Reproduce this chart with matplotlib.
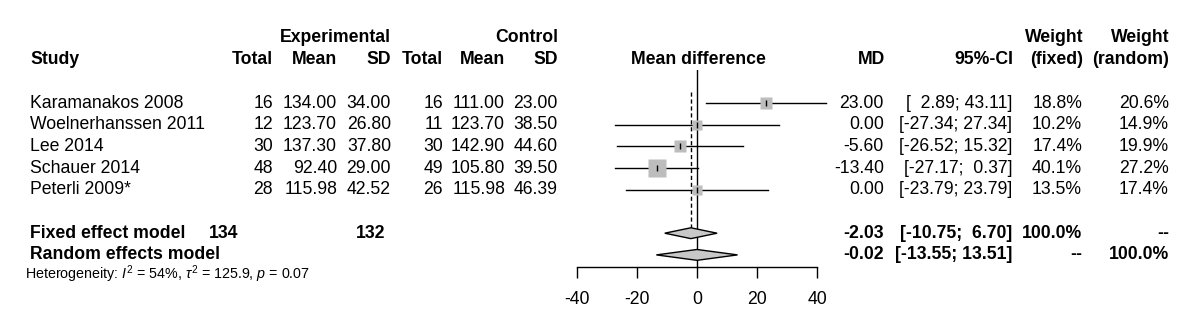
import numpy as np
import matplotlib
matplotlib.use("Agg")
import matplotlib.pyplot as plt
from matplotlib.patches import Polygon

plt.rcParams['font.family'] = ['Liberation Sans', 'DejaVu Sans']
plt.rcParams['mathtext.fontset'] = 'custom'
plt.rcParams['mathtext.rm'] = 'Liberation Sans'
plt.rcParams['mathtext.it'] = 'Liberation Sans:italic'
plt.rcParams['mathtext.bf'] = 'Liberation Sans:bold'
plt.rcParams['axes.unicode_minus'] = False

# data
studies = ["Karamanakos 2008", "Woelnerhanssen 2011", "Lee 2014", "Schauer 2014", "Peterli 2009*"]
exp_n = [16, 12, 30, 48, 28]
exp_mean = ["134.00", "123.70", "137.30", "92.40", "115.98"]
exp_sd = ["34.00", "26.80", "37.80", "29.00", "42.52"]
ctl_n = [16, 11, 30, 49, 26]
ctl_mean = ["111.00", "123.70", "142.90", "105.80", "115.98"]
ctl_sd = ["23.00", "38.50", "44.60", "39.50", "46.39"]
md = [23.00, 0.00, -5.60, -13.40, 0.00]
ci_lo = [2.89, -27.34, -26.52, -27.17, -23.79]
ci_hi = [43.11, 27.34, 15.32, 0.37, 23.79]
w_fixed = [18.8, 10.2, 17.4, 40.1, 13.5]
w_random = [20.6, 14.9, 19.9, 27.2, 17.4]

fixed_md, fixed_lo, fixed_hi = -2.03, -10.75, 6.70
random_md, random_lo, random_hi = -0.02, -13.55, 13.51
total_exp, total_ctl = 134, 132
xticks = [-40, -20, 0, 20, 40]

fs = 12.7
row_h = 21.7
y0 = 103

fig = plt.figure(figsize=(12, 3.32), dpi=100)
tx = fig.add_axes([0, 0, 1, 1])
tx.set_xlim(0, 1200)
tx.set_ylim(332, 0)
tx.axis('off')

def t(x, y, s, ha='right', bold=False, size=fs):
    tx.text(x, y, s, ha=ha, va='center', fontsize=size,
            fontweight='bold' if bold else 'normal')

def fmt_ci(lo, hi):
    return "[" + ("%.2f" % lo).rjust(6) + "; " + ("%.2f" % hi).rjust(5) + "]"

# headers
t(391, 37, "Experimental", bold=True)
t(558, 37, "Control", bold=True)
t(1083, 37, "Weight", bold=True)
t(1169, 37, "Weight", bold=True)
t(30, 59, "Study", ha='left', bold=True)
for x, s in [(273, "Total"), (337, "Mean"), (391, "SD"), (443, "Total"),
             (505, "Mean"), (558, "SD"), (885, "MD"), (1013, "95%-CI"),
             (1083, "(fixed)"), (1169, "(random)")]:
    t(x, 59, s, bold=True)
t(698, 59, "Mean difference", ha='center', bold=True)

for i, name in enumerate(studies):
    y = y0 + i * row_h
    t(30, y, name, ha='left')
    t(273, y, str(exp_n[i]))
    t(337, y, exp_mean[i])
    t(391, y, exp_sd[i])
    t(443, y, str(ctl_n[i]))
    t(505, y, ctl_mean[i])
    t(558, y, ctl_sd[i])
    t(884, y, "%.2f" % md[i])
    t(1012, y, fmt_ci(ci_lo[i], ci_hi[i]))
    t(1082, y, "%.1f%%" % w_fixed[i])
    t(1169, y, "%.1f%%" % w_random[i])

yf = y0 + 6 * row_h
yr = y0 + 7 * row_h
t(30, yf, "Fixed effect model", ha='left', bold=True)
t(238, yf, str(total_exp), bold=True)
t(385, yf, str(total_ctl), bold=True)
t(884, yf, "%.2f" % fixed_md, bold=True)
t(1012, yf, fmt_ci(fixed_lo, fixed_hi), bold=True)
t(1082, yf, "100.0%", bold=True)
t(1169, yf, "--", bold=True)
t(30, yr, "Random effects model", ha='left', bold=True)
t(884, yr, "%.2f" % random_md, bold=True)
t(1012, yr, fmt_ci(random_lo, random_hi), bold=True)
t(1082, yr, "--", bold=True)
t(1169, yr, "100.0%", bold=True)
t(25, 274, r"Heterogeneity: $I^2$ = 54%, $\tau^2$ = 125.9, $p$ = 0.07",
  ha='left', size=10.3)

# forest panel
px_top, px_bot = 70, 267
r_top = (px_top - y0) / row_h
r_bot = (px_bot - y0) / row_h
ax = fig.add_axes([577 / 1200, (332 - px_bot) / 332, 240 / 1200, (px_bot - px_top) / 332])
ax.set_xlim(-40, 40)
ax.set_ylim(r_bot, r_top)
ax.patch.set_alpha(0)
for s in ['top', 'left', 'right']:
    ax.spines[s].set_visible(False)
ax.spines['bottom'].set_linewidth(1)
ax.set_yticks([])
ax.set_xticks(xticks)
ax.tick_params(axis='x', direction='out', length=8, width=1, pad=9.5, labelsize=fs)

rows = np.arange(len(studies))
ax.axvline(0, color='black', lw=1, zorder=1)
ax.plot([fixed_md, fixed_md], [-0.5, 6 - 0.25], color='black', lw=1, ls=(0, (3, 2)), zorder=1)
for i in rows:
    ax.plot([ci_lo[i], ci_hi[i]], [i, i], color='black', lw=1, clip_on=False, zorder=2)
    ax.plot(md[i], i, marker='s', ms=2.1 * np.sqrt(w_fixed[i]), color='#bdbdbd',
            mec='none', zorder=3)
    ax.plot(md[i], i, marker='|', ms=5, mew=1, color='black', zorder=4)

dh = 0.25
for r, (c, lo, hi) in [(6, (fixed_md, fixed_lo, fixed_hi)), (7, (random_md, random_lo, random_hi))]:
    ax.add_patch(Polygon([[lo, r], [c, r - dh], [hi, r], [c, r + dh]], closed=True,
                         facecolor='#c8c8c8', edgecolor='black', lw=1, zorder=3))

fig.savefig("out.png", dpi=100)
